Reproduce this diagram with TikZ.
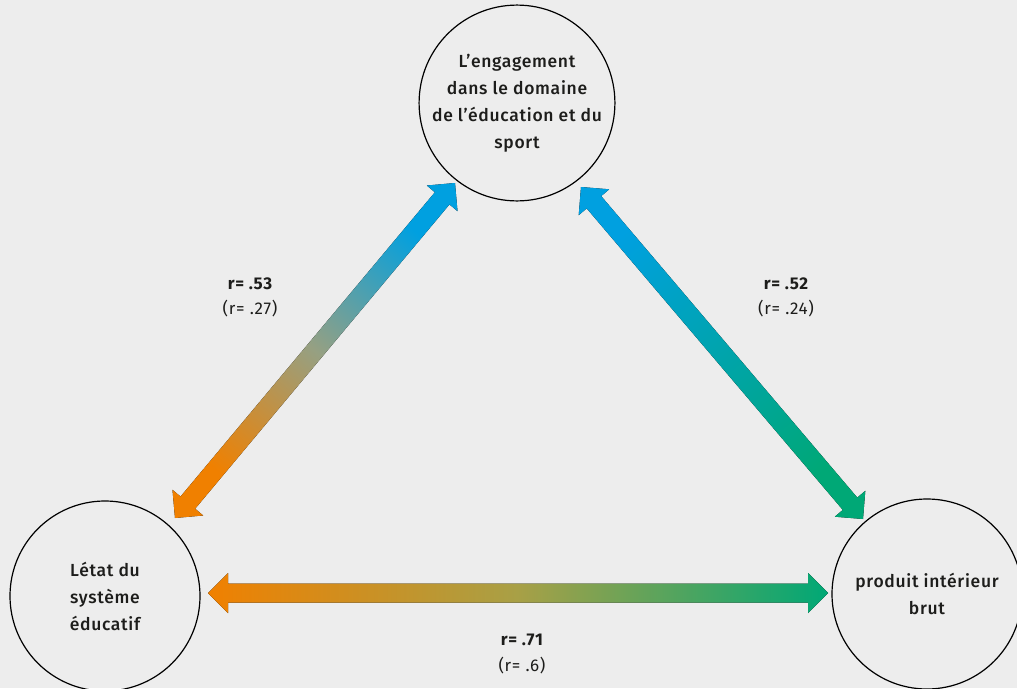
\documentclass[tikz,border=0pt]{standalone}
\usepackage{fontspec}
\setmainfont{Fira Sans}[UprightFont={* Medium}, BoldFont={* Bold}, LetterSpace=4]
\newfontfamily\regfont{Fira Sans}[LetterSpace=4]
\usetikzlibrary{calc}

\definecolor{bg}{HTML}{EDEDED}
\definecolor{ink}{HTML}{1D1D1B}
\definecolor{cblue}{RGB}{0,160,224}
\definecolor{corange}{RGB}{240,128,0}
\definecolor{cgreen}{RGB}{0,168,118}
\definecolor{midleft}{RGB}{150,160,130}
\definecolor{midright}{RGB}{0,164,172}
\definecolor{midbottom}{RGB}{168,160,70}

% Double-headed block arrow between two named points, filled with a shading
\newcommand\gradarrow[3]{%
  \path ($(#1)!20pt!(#2)$) coordinate (#1-m)
        ($(#2)!20pt!(#1)$) coordinate (#2-m);
  \fill[#3] (#1)
    -- ($(#1-m)!20pt!90:(#2)$) -- ($(#1-m)!9.5pt!90:(#2)$)
    -- ($(#2-m)!9.5pt!-90:(#1)$) -- ($(#2-m)!20pt!-90:(#1)$)
    -- (#2)
    -- ($(#2-m)!20pt!90:(#1)$) -- ($(#2-m)!9.5pt!90:(#1)$)
    -- ($(#1-m)!9.5pt!-90:(#2)$) -- ($(#1-m)!20pt!-90:(#2)$)
    -- cycle;}

\begin{document}
\begin{tikzpicture}[x=1pt,y=-1pt,
  circ/.style={circle, draw=black, line width=1.2pt, minimum size=190pt,
    inner sep=0pt, align=center, text=ink,
    font=\fontsize{17.5}{27}\selectfont},
  rbold/.style={text=ink, font=\fontsize{17}{19}\selectfont\bfseries},
  rplain/.style={text=ink, font=\fontsize{17}{19}\selectfont\regfont}]

\fill[bg] (0,0) rectangle (1017,688);
\useasboundingbox (0,0) rectangle (1017,688);

% the three quantities
\node[circ] (eng) at (517,103) {L’engagement\\dans le domaine\\de l’éducation et du\\sport};
\node[circ] (sys) at (105,596) {Létat du\\système\\éducatif};
\node[circ] (pib) at (927,594) {produit intérieur\\brut};

% arrow end points near the circles
\coordinate (a1) at ($(eng.center)+(-62,80)$);
\coordinate (a2) at ($(sys.center)+(70,-78)$);
\coordinate (b1) at ($(eng.center)+(64,84)$);
\coordinate (b2) at ($(pib.center)+(-64,-75)$);
\coordinate (c1) at ($(sys.center)+(103,-3)$);
\coordinate (c2) at ($(pib.center)+(-99,-1)$);

% correlation arrows
\gradarrow{a1}{a2}{top color=cblue, bottom color=corange, middle color=midleft, shading angle=-39.9}
\gradarrow{b1}{b2}{top color=cblue, bottom color=cgreen, middle color=midright, shading angle=40.3}
\gradarrow{c1}{c2}{left color=corange, right color=cgreen, middle color=midbottom}

% coefficients
\node[rbold]  (r1)  at (250,284) {r= .53};
\node[rplain] (r1p) at (250,309) {(r= .27)};
\node[rbold]  (r2)  at (786,284) {r= .52};
\node[rplain] (r2p) at (786,309) {(r= .24)};
\node[rbold]  (r3)  at (522,640) {r= .71};
\node[rplain] (r3p) at (522,666) {(r= .6)};
\end{tikzpicture}
\end{document}
